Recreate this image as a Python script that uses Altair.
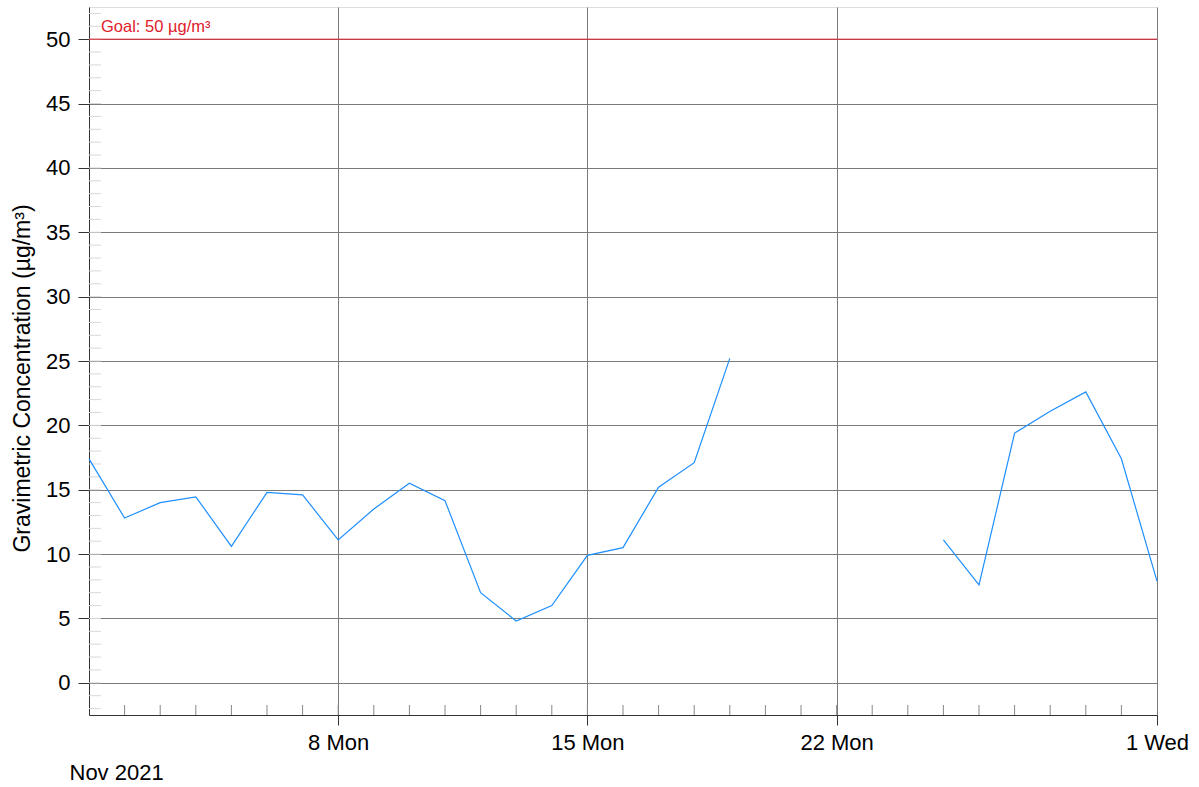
import altair as alt
import pandas as pd

# --- data ---
dates_a = ["2021-11-%02d" % d for d in range(1, 20)]
vals_a = [17.4, 12.8, 14.0, 14.45, 10.6, 14.8, 14.6, 11.1, 13.5, 15.5,
          14.15, 7.0, 4.8, 6.0, 9.9, 10.5, 15.2, 17.1, 25.2]
dates_b = ["2021-11-25", "2021-11-26", "2021-11-27", "2021-11-28",
           "2021-11-29", "2021-11-30", "2021-12-01"]
vals_b = [11.1, 7.6, 19.4, 21.1, 22.6, 17.4, 7.9]

goal_value = [50]
goal_label = ["Goal: 50 µg/m³"]
y_major = [0, 5, 10, 15, 20, 25, 30, 35, 40, 45, 50]
y_minor = list(range(-2, 53))
x_minor_days = ["2021-11-%02d" % d for d in range(2, 31)]
x_major = [(2021, 11, 8), (2021, 11, 15), (2021, 11, 22), (2021, 12, 1)]

df = pd.DataFrame({
    "date": dates_a + dates_b,
    "value": vals_a + vals_b,
    "seg": ["a"] * len(dates_a) + ["b"] * len(dates_b),
})
df_goal = pd.DataFrame({"v": goal_value, "label": goal_label})
df_yminor = pd.DataFrame({"v": y_minor})
df_xminor = pd.DataFrame({"date": x_minor_days})

W, H = 1068, 708
FONT = "Liberation Sans"
GRID = "#7a7a7a"
FS = 22

xdom = [alt.DateTime(year=2021, month=11, date=1, utc=True),
        alt.DateTime(year=2021, month=12, date=1, utc=True)]
xscale = alt.Scale(type="utc", domain=xdom, nice=False)
yscale = alt.Scale(domain=[-2.5, 52.5], nice=False, zero=False)

x_axis = alt.Axis(
    values=[alt.DateTime(year=y, month=m, date=d, utc=True) for (y, m, d) in x_major],
    labelExpr="utcFormat(datum.value, '%-d %a')",
    labelFlush=False, labelOverlap=False, labelBound=False,
    grid=True, gridColor=GRID, gridWidth=1,
    tickSize=10, tickColor="#333", labelFontSize=FS, labelFont=FONT,
    labelColor="#000", labelPadding=7, domainColor="#333",
    title="Nov 2021", titleFont=FONT, titleFontSize=FS, titleFontWeight="normal",
    titleAnchor="start", titleAlign="left", titleBaseline="middle",
    titleX=-20, titleY=57, titleColor="#000",
)
y_axis = alt.Axis(
    values=y_major, grid=True, gridColor=GRID, gridWidth=1,
    tickSize=11, tickColor="#333", labelFontSize=FS, labelFont=FONT,
    labelColor="#000", labelPadding=8, domainColor="#333",
    title="Gravimetric Concentration (µg/m³)", titleFont=FONT,
    titleFontSize=23, titleFontWeight="normal", titleColor="#000",
    titlePadding=11, titleY=371,
)

line = alt.Chart(df).mark_line(color="#1E8FFF", strokeWidth=1.2).encode(
    x=alt.X("date:T", scale=xscale, axis=x_axis),
    y=alt.Y("value:Q", scale=yscale, axis=y_axis),
    detail="seg:N",
)

y_minor_ticks = alt.Chart(df_yminor).mark_rule(color="#d8d8d8", strokeWidth=1).encode(
    x=alt.value(0), x2=alt.value(12),
    y=alt.Y("v:Q", scale=yscale),
)

x_minor_ticks = alt.Chart(df_xminor).mark_rule(color="#888", strokeWidth=1).encode(
    x=alt.X("date:T", scale=xscale),
    y=alt.value(H - 10), y2=alt.value(H),
)

goal_rule = alt.Chart(df_goal).mark_rule(color="#e0202a", strokeWidth=1).encode(
    y=alt.Y("v:Q", scale=yscale),
    x=alt.value(0), x2=alt.value(W),
)
goal_text = alt.Chart(df_goal).mark_text(
    color="#e0202a", font=FONT, fontSize=16.5, align="left", baseline="middle", dy=-12
).encode(
    x=alt.value(12),
    y=alt.Y("v:Q", scale=yscale),
    text="label:N",
)

chart = alt.layer(
    y_minor_ticks, x_minor_ticks, goal_rule, goal_text, line
).properties(
    width=W, height=H,
    autosize=alt.AutoSizeParams(type="none"),
    padding={"left": 89, "top": 7, "right": 42, "bottom": 72},
).configure_view(
    stroke="#333", strokeWidth=1,
).configure(background="white")

chart.save("out.html", embed_options={"renderer": "svg", "actions": False})
